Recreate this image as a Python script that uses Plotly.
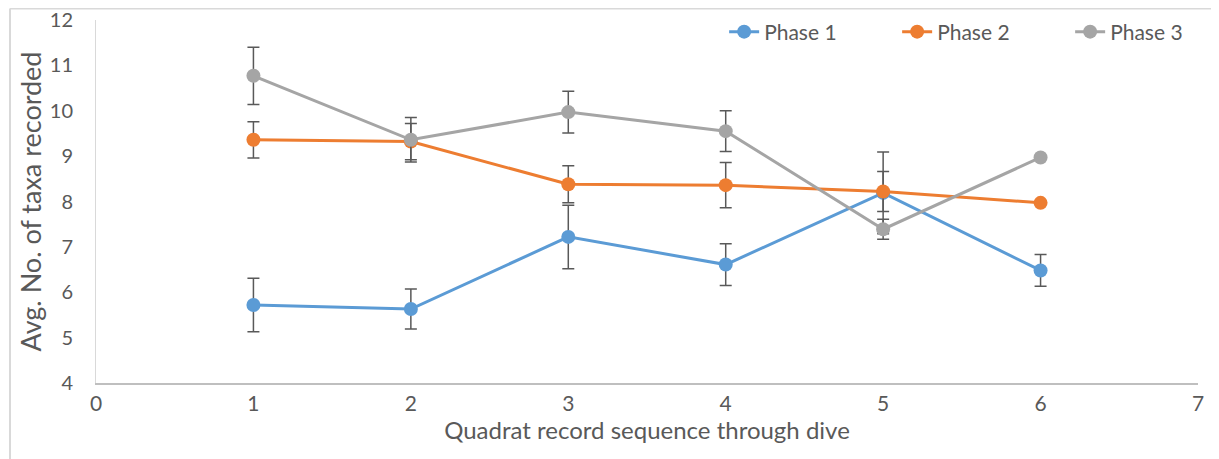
import plotly.graph_objects as go

x_vals = [1, 2, 3, 4, 5, 6]
phase1 = [5.72, 5.63, 7.22, 6.61, 8.19, 6.48]
phase1_err = [0.59, 0.44, 0.70, 0.46, 0.90, 0.35]
phase2 = [9.36, 9.32, 8.38, 8.36, 8.22, 7.97]
phase2_err = [0.40, 0.40, 0.41, 0.50, 0.44, 0.0]
phase3 = [10.77, 9.36, 9.97, 9.55, 7.39, 8.97]
phase3_err = [0.63, 0.49, 0.46, 0.45, 0.22, 0.0]

names = ["Phase 1", "Phase 2", "Phase 3"]
colors = ["#5B9BD5", "#ED7D31", "#A5A5A5"]

FONT = "Lato, Carlito, Calibri, sans-serif"
TXT = "#595959"

# the page body adds an 8px offset; compensate so the plot area lands
# at x 96..1198 and y 20..383 of the window
W, H = 1211, 451
ML, MR, MT, MB = 88, 21, 12, 76

fig = go.Figure()
for name, ys, errs, c in zip(names, [phase1, phase2, phase3],
                             [phase1_err, phase2_err, phase3_err], colors):
    fig.add_trace(go.Scatter(
        x=x_vals, y=ys, name=name, mode="lines+markers",
        line=dict(color=c, width=3),
        marker=dict(color=c, size=14),
        error_y=dict(type="data", array=errs, visible=True,
                     color="#595959", thickness=1.5, width=6),
    ))

fig.update_layout(
    width=W, height=H,
    margin=dict(l=ML, r=MR, t=MT, b=MB, autoexpand=False),
    paper_bgcolor="white", plot_bgcolor="white",
    font=dict(family=FONT, color=TXT, size=21),
    showlegend=True,
    legend=dict(orientation="h", x=0.57, xanchor="left", y=0.967,
                yanchor="middle", font=dict(size=21, color=TXT),
                bgcolor="rgba(0,0,0,0)", entrywidth=128,
                entrywidthmode="pixels"),
    xaxis=dict(range=[0, 7], dtick=1, tick0=0, showgrid=False, zeroline=False,
               showline=True, linecolor="#BFBFBF", linewidth=2,
               ticks="", ticklabelstandoff=1, automargin=False,
               tickfont=dict(size=21, color=TXT),
               title=dict(text="Quadrat record sequence through dive",
                          font=dict(size=24, color=TXT), standoff=0)),
    yaxis=dict(range=[4, 12], dtick=1, tick0=4, showgrid=False, zeroline=False,
               showline=True, linecolor="#D9D9D9", linewidth=1,
               ticks="", ticklabelstandoff=18, automargin=False,
               ticklabeloverflow="allow",
               tickfont=dict(size=20, color=TXT),
               title=dict(text="Avg. No. of taxa recorded",
                          font=dict(size=27, color=TXT), standoff=0)),
)

# chart border (outer frame, light gray)
pw = W - ML - MR
ph = H - MT - MB
x0p = (2 - ML) / pw
y_top = 1 + (MT - 0.5) / ph
fig.add_shape(type="line", xref="paper", yref="paper", x0=x0p, x1=1.05,
              y0=y_top, y1=y_top, line=dict(color="#D9D9D9", width=2))
fig.add_shape(type="line", xref="paper", yref="paper", x0=x0p, x1=x0p,
              y0=y_top, y1=-0.3, line=dict(color="#D9D9D9", width=2))

fig.write_html("out.html")
